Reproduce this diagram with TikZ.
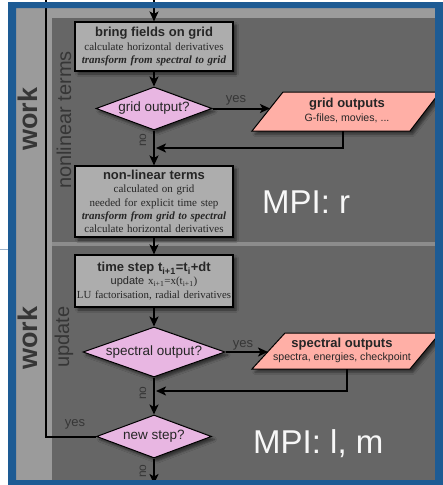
\documentclass[tikz,border=0pt]{standalone}
\usepackage{fontspec}
\setmainfont{Liberation Serif}
\setsansfont{Liberation Sans}
\usetikzlibrary{shapes.geometric,arrows.meta,shadows.blur}
\definecolor{frameblue}{HTML}{1D5B94}
\definecolor{panelgray}{HTML}{666666}
\definecolor{lightcol}{HTML}{9B9B9B}
\definecolor{sepgray}{HTML}{8C8C8C}
\definecolor{boxgray}{HTML}{ADADAD}
\definecolor{lilac}{HTML}{E8B6E2}
\definecolor{salmon}{HTML}{FFAFA6}
\definecolor{labelgray}{HTML}{363636}
\definecolor{strayblue}{HTML}{9DB4CC}
\begin{document}
\begin{tikzpicture}[x=1pt,y=-1pt,
  shad/.style={blur shadow={shadow xshift=3pt,shadow yshift=-3pt,shadow opacity=55,shadow blur radius=2.5pt}},
  procbox/.style={draw=black, line width=1.1pt, fill=boxgray, text width=158pt, align=center,
    inner xsep=0pt, inner ysep=1.5pt, text=black!85, font=\fontsize{11}{13.2}\selectfont, shad},
  decision/.style={diamond, draw=black, line width=1pt, fill=lilac, inner sep=0pt, text=black!85,
    font=\sffamily\fontsize{13.5}{15}\selectfont, shad},
  outbox/.style={draw=black, line width=1pt, fill=salmon, shad},
  outtext/.style={align=center, inner sep=0pt, text=black!85, font=\sffamily\fontsize{10.6}{13}\selectfont},
  flow/.style={line width=2pt, draw=black, -{Stealth[length=10pt,width=9pt,inset=2.5pt]}},
  flowline/.style={line width=2pt, draw=black},
  lab/.style={text=labelgray, font=\sffamily\fontsize{13}{14}\selectfont, inner sep=0pt},
  nolab/.style={text=labelgray, font=\sffamily\fontsize{12}{13}\selectfont, inner sep=0pt, rotate=90},
  worklab/.style={text=labelgray, font=\sffamily\bfseries\fontsize{27}{29}\selectfont, inner sep=0pt, rotate=90},
  sectlab/.style={text=labelgray, font=\sffamily\fontsize{20}{22}\selectfont, inner sep=0pt, rotate=90},
  mpilab/.style={text=white!94!gray, font=\sffamily\fontsize{33}{36}\selectfont, inner sep=0pt, anchor=base west},
  head/.style={}
]
\newcommand{\hd}[1]{{\sffamily\bfseries\fontsize{13}{15}\selectfont #1}}
\useasboundingbox (0,0) rectangle (443,485);
% background
\fill[white] (0,0) rectangle (443,485);
\draw[strayblue, line width=1pt] (0,249) -- (8,249);
\fill[lightcol] (16,8) rectangle (435,480);
\fill[panelgray] (52,18) rectangle (435,242);
\fill[sepgray] (52,242) rectangle (435,246);
\fill[panelgray] (52,246) rectangle (435,480);

% side labels
\node[worklab] (work1) at (28,119) {work};
\node[worklab] (work2) at (28,338) {work};
\node[sectlab] (nlt) at (64,120) {nonlinear terms};
\node[sectlab] (upd) at (64,337) {update};

% MPI labels
\node[mpilab] (mpir) at (262,213) {MPI: r};
\node[mpilab] (mpilm) at (253,453) {MPI: l, m};

% output parallelograms
\draw[outbox] (252,131) -- (283,92) -- (440,92) -- (410,131) -- cycle;
\node[outtext] (out1) at (347,110) {\hd{grid outputs}\\[1pt] G-files, movies, ...};
\draw[outbox] (252,369) -- (285,333) -- (440,333) -- (410,369) -- cycle;
\node[outtext] (out2) at (342,350) {\hd{spectral outputs}\\[0pt] spectra, energies, checkpoint};

% process boxes
\node[procbox, minimum height=49pt] (box1) at (154,46.5)
  {\hd{bring fields on grid}\\ calculate horizontal derivatives\\ \textbf{\textit{transform from spectral to grid}}};
\node[procbox, minimum height=71pt] (box2) at (154,201.5)
  {\hd{non-linear terms}\\ calculated on grid\\ needed for explicit time step\\ \textbf{\textit{transform from grid to spectral}}\\ calculate horizontal derivatives};
\node[procbox, minimum height=52pt] (box3) at (154,281)
  {\hd{time step t\textsubscript{i+1}=t\textsubscript{i}+dt}\\ {\sffamily update} x\textsubscript{i+1}=x(t\textsubscript{i+1})\\ {\fontsize{10.8}{13}\selectfont LU factorisation, radial derivatives}};

% decisions
\node[decision, minimum width=116pt, minimum height=43pt, shape aspect=2.7] (d1) at (154,108.5) {grid output?};
\node[decision, minimum width=142pt, minimum height=50pt, shape aspect=2.8] (d2) at (154,352) {spectral output?};
\node[decision, minimum width=115pt, minimum height=43pt, shape aspect=2.7] (d3) at (154,436.5) {new step?};

% coordinates
\coordinate (topin) at (154,0);
\coordinate (in1) at (270,108.5);
\coordinate (in2) at (268,352);
\coordinate (foot1) at (343,131);
\coordinate (join1) at (156,148);
\coordinate (foot2) at (347,369);
\coordinate (join2) at (156,391);
\coordinate (loopend) at (46,0);
\coordinate (botout) at (154,484);

% connectors
\draw[flow] (topin) -- (box1);
\draw[flow] (box1) -- (d1);
\draw[flow] (d1) -- (in1);
\draw[flow] (d1) -- (box2);
\draw[flow] (foot1) |- (join1);
\draw[flow] (box2) -- (box3);
\draw[flow] (box3) -- (d2);
\draw[flow] (d2) -- (in2);
\draw[flow] (d2) -- (d3);
\draw[flow] (foot2) |- (join2);
\draw[flow] (d3) -- (botout);
\draw[flowline] (d3.west) -| (loopend);

% yes / no labels
\node[lab] (yes1) at (236,100) {yes};
\node[lab] (yes2) at (243,345) {yes};
\node[lab] (yes3) at (75,424) {yes};
\node[nolab] (no1) at (143,140) {no};
\node[nolab] (no2) at (143,393) {no};
\node[nolab] (no3) at (143,471) {no};

% frame
\fill[frameblue, even odd rule] (8,2) rectangle (445,487) (16,8) rectangle (435,480);
\end{tikzpicture}
\end{document}
